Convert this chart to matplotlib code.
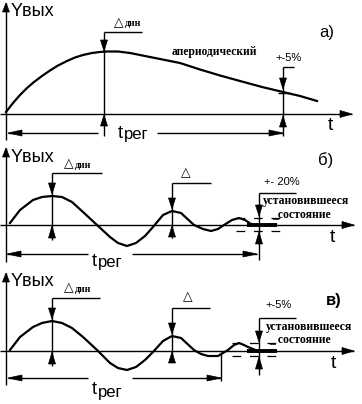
import matplotlib
matplotlib.use("Agg")
import matplotlib.pyplot as plt
from matplotlib.patches import Polygon

# Curves: x position and height above the zero line (pixels of the original)
curve_a_x = [6, 13, 20, 27, 34, 42, 50, 58, 67, 75, 83, 92, 100, 107, 118, 130, 140, 150,
             165, 180, 200, 220, 240, 262, 283, 300, 317]
curve_a_h = [2, 11, 19, 26, 32, 38, 43.5, 48.5, 53, 56.5, 59, 61, 62, 62.5, 62.5, 61, 59, 57,
             54, 51, 44.5, 38.5, 33, 27, 22, 18, 13]

curve_b_x = [10, 20, 33, 42, 52, 62, 72, 83, 97, 110, 118, 127, 136, 145, 153, 163, 172, 181,
             194, 203, 211, 218, 224, 232, 239, 245, 251, 258]
curve_b_h = [2, 15, 25, 28, 29, 28, 23, 13, 0, -12, -18, -21, -18, -11, -2, 10, 14, 12,
             0, -4, -6, -4, 0, 5, 7, 5, 1, 0]

curve_v_x = [10, 20, 33, 42, 52, 62, 72, 83, 97, 110, 118, 127, 136, 145, 153, 163, 172, 181,
             194, 201, 208, 218, 228, 234, 239, 244, 248, 253, 258]
curve_v_h = [1, 14, 24, 28, 30, 28, 23, 14, 1, -12, -17, -19, -16, -9, -1, 10, 15, 13,
             1, -3, -5, -5, 1, 6, 8, 6, 4, 2, 0]

panel_labels = ["а)", "б)", "в)"]
tolerance_labels = ["+-5%", "+- 20%", "+-5%"]

SANS = "Liberation Sans"
SERIF = "Liberation Serif"

fig = plt.figure(figsize=(3.62, 4.04), dpi=100)
ax = fig.add_axes([0, 0, 1, 1])
ax.set_xlim(0, 362)
ax.set_ylim(404, 0)
ax.axis("off")


def line(x, y, lw=1.0, **kw):
    ax.plot(x, y, color="black", lw=lw, solid_capstyle="butt", **kw)


def tri(x, y, d, L=10, w=3.5):
    # filled arrow head, tip at (x, y)
    if d == "down":
        pts = [(x - w, y - L), (x + w, y - L), (x, y)]
    elif d == "up":
        pts = [(x - w, y + L), (x + w, y + L), (x, y)]
    elif d == "left":
        pts = [(x + L, y - w), (x + L, y + w), (x, y)]
    else:
        pts = [(x - L, y - w), (x - L, y + w), (x, y)]
    ax.add_patch(Polygon(pts, closed=True, color="black", lw=0.5))


def axes_frame(top, bottom, base, tend):
    line([6, 6], [top, bottom])
    tri(6, top, "up", L=9, w=3.5)
    line([0, tend], [base, base])
    tri(tend, base, "right", L=12, w=3.5)


def curve(xs, hs, base):
    ax.plot(xs, [base - h for h in hs], color="black", lw=1.6, solid_joinstyle="round")


def delta_label(x, y, text):
    ax.text(x, y, "△", fontsize=9, family="DejaVu Sans", va="center", ha="left")
    ax.text(x + 11, y + 1, text, fontsize=7, family=SERIF, weight="bold", va="center", ha="left")


def treg(y, x0, g0, g1, x1, tx, ty):
    line([x0, g0], [y, y])
    line([g1, x1], [y, y])
    tri(x0, y, "left", L=14, w=3)
    tri(x1, y, "right", L=14, w=3)
    ax.text(tx, ty, "t", fontsize=13, family=SANS, va="center", ha="left")
    ax.text(tx + 6, ty + 2, "рег", fontsize=12, family=SANS, va="center", ha="left")


def ylabel(y):
    ax.text(11, y, "Yвых", fontsize=13, family=SANS, va="center", ha="left")


def steady_text(x0, y0, x1, y1, second):
    ax.text(x0, y0, "установившееся", fontsize=8.5, family=SERIF, weight="bold", va="center")
    ax.text(x1, y1, second, fontsize=8.5, family=SERIF, weight="bold", va="center")


# ---- panel а ----
base = 114
axes_frame(3, 140, base, 352)
ylabel(12)
curve(curve_a_x, curve_a_h, base)
line([104, 104], [32, 136])
line([104, 142], [32, 32])
tri(104, 51, "down", L=11)
tri(104, base + 1, "up", L=11)
delta_label(114, 23, "дин")
ax.text(172, 52, "апериодический", fontsize=8.3, family=SERIF, weight="bold", va="center")
line([283, 283], [67, 136])
line([283, 294], [67, 67])
tri(283, 89, "down", L=11)
line([278, 290], [93, 93])
tri(283, base + 2, "up", L=11)
ax.text(275, 58, tolerance_labels[0], fontsize=8, family=SANS, va="center")
treg(133, 8, 98, 157, 283, 118, 133)
ax.text(319, 33, panel_labels[0], fontsize=12, family=SANS, va="center")
ax.text(328, 126, "t", fontsize=14, family=SANS, va="center")

# ---- panel б ----
base = 225
axes_frame(148, 262, base, 354)
ylabel(157)
curve(curve_b_x, curve_b_h, base)
line([247, 277], [base, base], lw=2.8)
line([52, 52], [173, 240])
line([52, 102], [173, 173])
tri(52, 194, "down", L=11)
tri(52, base + 1, "up", L=12)
delta_label(64, 164, "дин")
line([172, 172], [183, 238])
line([172, 211], [183, 183])
tri(172, 209, "down", L=11)
tri(172, base + 1, "up", L=11)
ax.text(181, 173, "△", fontsize=9, family="DejaVu Sans", va="center")
line([259, 259], [193, 260])
line([259, 296], [193, 193])
tri(259, 216, "down", L=11)
tri(259, 232, "up", L=12)
ax.plot([236, 282], [218, 218], color="black", lw=0.9, ls=(0, (7, 7)))
ax.plot([236, 282], [231, 231], color="black", lw=0.9, ls=(0, (7, 7)))
ax.text(264, 182, tolerance_labels[1], fontsize=8, family=SANS, va="center")
steady_text(263, 201, 272, 214, "_состояние")
treg(254, 7, 88, 132, 257, 92, 261)
ax.text(318, 160, panel_labels[1], fontsize=12, family=SANS, va="center")
ax.text(330, 238, "t", fontsize=14, family=SANS, va="center")

# ---- panel в ----
base = 351
axes_frame(273, 385, base, 354)
ylabel(281)
curve(curve_v_x, curve_v_h, base)
line([247, 277], [base, base], lw=2.8)
line([52, 52], [298, 366])
line([52, 100], [298, 298])
tri(52, 319, "down", L=11)
tri(52, base + 1, "up", L=12)
delta_label(64, 288, "дин")
line([172, 172], [308, 362])
line([172, 210], [308, 308])
tri(172, 334, "down", L=11)
tri(172, base + 1, "up", L=11)
ax.text(183, 297, "△", fontsize=9, family="DejaVu Sans", va="center")
line([259, 259], [318, 375])
line([259, 296], [318, 318])
tri(259, 342, "down", L=11)
tri(259, 357, "up", L=12)
ax.plot([232, 282], [343, 343], color="black", lw=0.9, ls=(0, (7, 7)))
ax.plot([232, 282], [356, 356], color="black", lw=0.9, ls=(0, (7, 7)))
ax.text(265, 305, tolerance_labels[2], fontsize=8, family=SANS, va="center")
steady_text(266, 327, 269, 339, "_ состояние")
treg(378, 8, 88, 132, 221, 92, 390)
line([221, 221], [352, 381])
ax.text(326, 301, panel_labels[2], fontsize=12, family=SANS, weight="bold", va="center")
ax.text(331, 364, "t", fontsize=14, family=SANS, va="center")

fig.savefig("out.png", dpi=100, facecolor="white")
